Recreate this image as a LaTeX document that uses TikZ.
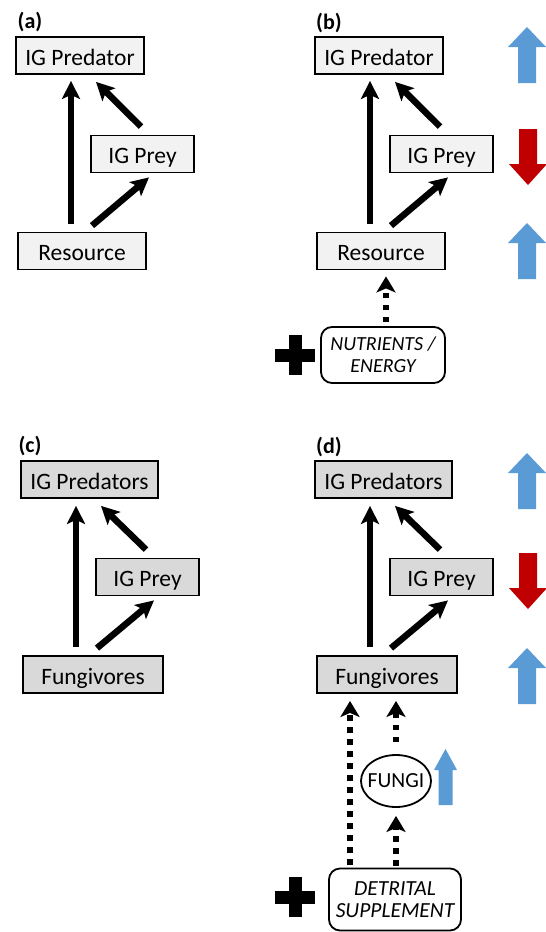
\documentclass[tikz,border=0pt]{standalone}
\usepackage{fontspec}
\setmainfont{Carlito}
\usetikzlibrary{arrows.meta,calc,shapes.geometric}
\definecolor{lightbox}{HTML}{F2F2F2}
\definecolor{darkbox}{HTML}{D9D9D9}
\definecolor{blueA}{HTML}{5B9BD5}
\definecolor{redA}{HTML}{C00000}
\tikzset{
  box/.style={draw=black, line width=1.8pt, minimum height=37pt, inner sep=0pt,
    font=\fontsize{23.5}{26}\selectfont, text height=22pt, text depth=3pt},
  boxa/.style={box, fill=lightbox},
  boxc/.style={box, fill=darkbox},
  inputbox/.style={draw=black, line width=1.8pt, rounded corners=11pt, fill=white,
    align=center, inner sep=0pt, font=\fontsize{20}{22}\selectfont\itshape},
  arr/.style={line width=6.5pt, -{Stealth[length=18pt,width=18pt,inset=4pt]}},
  darr/.style={line width=5.5pt, dash pattern=on 5.5pt off 6.5pt,
    -{Stealth[length=16pt,width=19pt,inset=4pt]}},
  lbl/.style={font=\fontsize{22}{24}\selectfont\bfseries, inner sep=0pt},
  uparr/.pic={\fill (0,0) -- (19,20) -- (9,20) -- (9,56) -- (-9,56) -- (-9,20) -- (-19,20) -- cycle;},
  downarr/.pic={\fill (-9,0) -- (9,0) -- (9,35) -- (19,35) -- (0,56) -- (-19,35) -- (-9,35) -- cycle;},
  smallup/.pic={\fill (0,0) -- (11.5,21) -- (7,21) -- (7,56) -- (-7,56) -- (-7,21) -- (-11.5,21) -- cycle;},
  plussign/.pic={\fill (-20,-6.5) rectangle (20,6.5); \fill (-6.5,-20) rectangle (6.5,20);}
}
\begin{document}
\begin{tikzpicture}[x=1pt,y=-1pt]
\useasboundingbox (0,0) rectangle (546,932);

% ---------- panel (a)
\node[lbl] (la) at (30,21.5) {(a)};
\node[boxa, minimum width=128pt] (aPred) at (80,55.5) {IG Predator};
\node[boxa, minimum width=103pt] (aPrey) at (142.5,154) {IG Prey};
\node[boxa, minimum width=128pt] (aRes) at (82,251) {Resource};
\draw[arr] ([shift={(-11,-8)}]aRes.north) -- ([shift={(-9,6)}]aPred.south);
\draw[arr] ([shift={(-1.5,-8)}]aPrey.north) -- ([shift={(16,7)}]aPred.south);
\draw[arr] ([shift={(10,-6)}]aRes.north) -- ([shift={(6.5,4)}]aPrey.south);

% ---------- panel (b)
\node[lbl] (lb) at (329,22.5) {(b)};
\node[boxa, minimum width=128pt] (bPred) at (379,55.5) {IG Predator};
\node[boxa, minimum width=103pt] (bPrey) at (441.5,154) {IG Prey};
\node[boxa, minimum width=128pt] (bRes) at (381,251) {Resource};
\node[inputbox, minimum width=124pt, minimum height=56pt] (bNut) at (383,355) {NUTRIENTS /\\ENERGY};
\draw[arr] ([shift={(-11,-8)}]bRes.north) -- ([shift={(-9,6)}]bPred.south);
\draw[arr] ([shift={(-1.5,-8)}]bPrey.north) -- ([shift={(16,7)}]bPred.south);
\draw[arr] ([shift={(10,-6)}]bRes.north) -- ([shift={(6.5,4)}]bPrey.south);
\draw[darr] ([shift={(3,-4)}]bNut.north) -- ([shift={(5,6)}]bRes.south);
\pic[fill=blueA] at (527,27) {uparr};
\pic[fill=redA] at (528,129) {downarr};
\pic[fill=blueA] at (527,223) {uparr};
\pic at (295,355) {plussign};

% ---------- panel (c)
\node[lbl] (lc) at (30,445.5) {(c)};
\node[boxc, minimum width=137pt] (cPred) at (89.5,479.5) {IG Predators};
\node[boxc, minimum width=103pt] (cPrey) at (147.5,577) {IG Prey};
\node[boxc, minimum width=140pt] (cFun) at (93,674.5) {Fungivores};
\draw[arr] ([shift={(-17,-8)}]cFun.north) -- ([shift={(-13.5,7)}]cPred.south);
\draw[arr] ([shift={(-1.5,-8)}]cPrey.north) -- ([shift={(11.5,7)}]cPred.south);
\draw[arr] ([shift={(4,-7)}]cFun.north) -- ([shift={(6.5,4)}]cPrey.south);

% ---------- panel (d)
\node[lbl] (ld) at (329,446.5) {(d)};
\node[boxc, minimum width=137pt] (dPred) at (383.5,479.5) {IG Predators};
\node[boxc, minimum width=103pt] (dPrey) at (441.5,577) {IG Prey};
\node[boxc, minimum width=140pt] (dFun) at (387,674.5) {Fungivores};
\node[ellipse, draw=black, line width=1.8pt, fill=white, inner xsep=-4pt, inner ysep=0pt,
  minimum width=70pt, minimum height=52pt, font=\fontsize{21.5}{24}\selectfont] (dFungi) at (396,781) {FUNGI};
\node[inputbox, minimum width=132pt, minimum height=62pt, font=\fontsize{21.5}{22}\selectfont\itshape] (dDet) at (395,899.5) {DETRITAL\\SUPPLEMENT};
\draw[arr] ([shift={(-17,-8)}]dFun.north) -- ([shift={(-13.5,7)}]dPred.south);
\draw[arr] ([shift={(-1.5,-8)}]dPrey.north) -- ([shift={(11.5,7)}]dPred.south);
\draw[arr] ([shift={(4,-7)}]dFun.north) -- ([shift={(6.5,4)}]dPrey.south);
\draw[darr] ([shift={(-45,-3)}]dDet.north) -- ([shift={(-37,7)}]dFun.south);
\draw[darr] ([shift={(0,-12)}]dFungi.north) -- ([shift={(9,7)}]dFun.south);
\draw[darr] ([shift={(1,-2)}]dDet.north) -- ([shift={(0,8)}]dFungi.south);
\pic[fill=blueA] at (527,453) {uparr};
\pic[fill=redA] at (528,553) {downarr};
\pic[fill=blueA] at (527,648) {uparr};
\pic[fill=blueA] at (445.5,749) {smallup};
\pic at (295,897) {plussign};
\end{tikzpicture}
\end{document}
